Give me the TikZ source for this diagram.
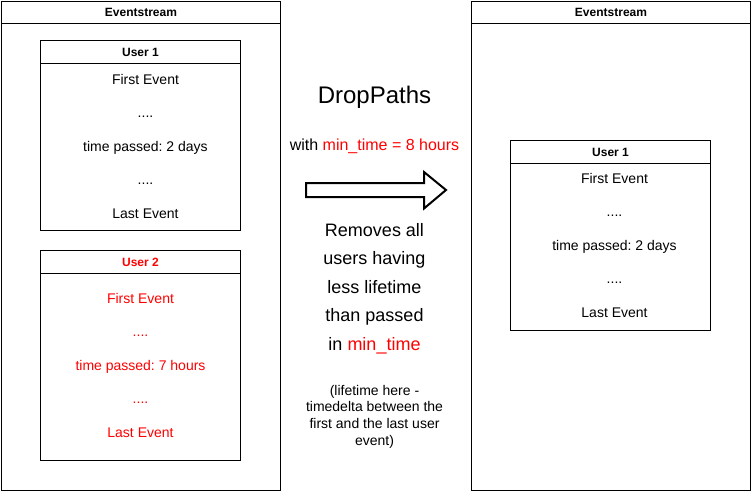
\documentclass[tikz,border=0pt]{standalone}
\usepackage{fontspec}
\setmainfont{Liberation Sans}
\usepackage{xcolor}
\usepackage{tikz}
\usetikzlibrary{positioning,calc}
\frenchspacing
\tikzset{
  % swimlane frames
  lane/.style={draw,line width=1pt,anchor=north west,inner sep=0pt},
  lanerule/.style={line width=1pt},
  lanehead/.style={font=\fontsize{12}{14}\selectfont\bfseries,inner sep=0pt},
  % event lines inside a user
  evt/.style={font=\fontsize{14}{16.8}\selectfont,anchor=base,inner sep=0pt},
  % middle captions
  opname/.style={font=\fontsize{24}{28.8}\selectfont,anchor=base,inner sep=0pt},
  opparam/.style={font=\fontsize{16}{19.2}\selectfont,anchor=base,inner sep=0pt},
  optext/.style={font=\fontsize{18}{21.6}\selectfont,anchor=base,inner sep=0pt},
  opnote/.style={font=\fontsize{14}{16.8}\selectfont,anchor=base,inner sep=0pt},
  % block arrow
  blockarrow/.style={draw,line width=2pt,fill=white,line join=miter},
}
% skipped events
\newcommand\evgap{....}

\begin{document}
\begin{tikzpicture}[x=1pt,y=-1pt]
\useasboundingbox (0,0) rectangle (751,491);

%% Eventstream frames (before / after)
\foreach \nm/\x in {streamL/1, streamR/471}{
  \node[lane,minimum width=279pt,minimum height=489pt] (\nm) at (\x,1) {};
  \draw[lanerule] ($(\nm.north west)+(0,22)$) -- ($(\nm.north east)+(0,22)$);
  \node[lanehead] (\nm-head) at ($(\nm.north)+(0,11.5)$) {Eventstream};
}

%% user paths
\foreach \nm/\x/\y/\h/\col/\lbl/\dx/\first/\tp in {
    userA/40/40/190/black/1/5/44/2 days,
    userB/40/250/210/red/2/0/53/7 hours,
    userC/510/140/190/black/1/4/43/2 days}{
  \node[lane,minimum width=200pt,minimum height=\h pt] (\nm) at (\x,\y) {};
  \draw[lanerule] ($(\nm.north west)+(0,23)$) -- ($(\nm.north east)+(0,23)$);
  \node[lanehead,text=\col] (\nm-head) at ($(\nm.north)+(0,12)$) {User \lbl};
  \foreach \txt [count=\k from 0] in {First Event, \evgap, time passed: \tp, \evgap, Last Event}{
    \node[evt,text=\col] (\nm-e\k) at ($(\nm.north)+(\dx,{\first+33.6*\k})$) {\txt};
  }
}

%% operation caption
\def\mx{374.5}
\node[opname] (drop) at (\mx,103) {DropPaths};
\node[opparam] (param) at (\mx,150) {with \textcolor{red}{min\_time = 8 hours}};

%% block arrow
\coordinate (arrowtail) at (306,190);
\draw[blockarrow] ($(arrowtail)+(0,-7)$) -- ++(118,0) -- ++(0,-11)
  -- ($(arrowtail)+(140,0)$) -- ($(arrowtail)+(118,18.5)$) -- ++(0,-11.5)
  -- ($(arrowtail)+(0,7)$) -- cycle;

%% description
\foreach \txt [count=\k from 0] in {Removes all, users having, less lifetime,
    than passed, in \textcolor{red}{min\_time}}{
  \node[optext] (desc\k) at (\mx,{236+28.6*\k}) {\txt};
}
\foreach \txt [count=\k from 0] in {{(lifetime here -}, timedelta between the,
    first and the last user, {event)}}{
  \node[opnote] (note\k) at (\mx,{395+16.8*\k}) {\txt};
}
\end{tikzpicture}
\end{document}
